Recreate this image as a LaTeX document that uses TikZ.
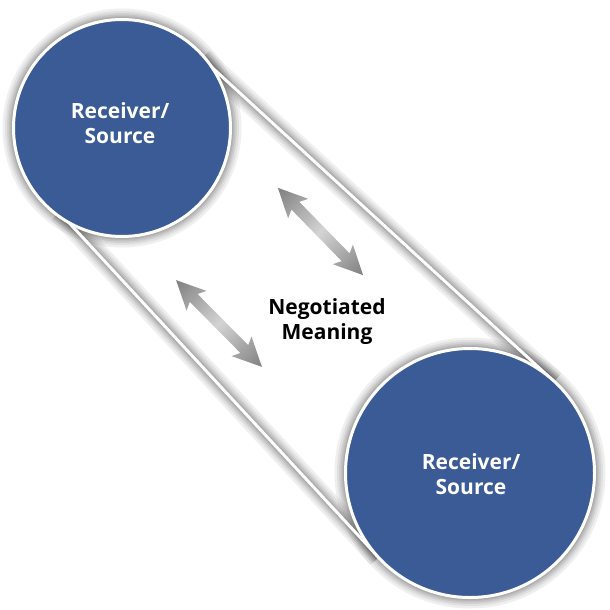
\documentclass[tikz,border=0pt]{standalone}
\usepackage{fontspec}
\setsansfont{Open Sans}
\usetikzlibrary{calc}
\definecolor{circblue}{RGB}{59,91,150}
\tikzset{
  glow/.style={draw=black, line width=#1, opacity=0.062},
  ring/.style={draw=white, line width=3pt},
  bandline/.style={draw=white, line width=3pt, line cap=butt},
  bluecirc/.style={circle, fill=circblue, draw=white, line width=3pt, inner sep=0pt, outer sep=0pt},
  circtext/.style={text=white, font=\sffamily\bfseries\fontsize{21}{25.5}\selectfont, align=center},
  midtext/.style={text=black, font=\sffamily\bfseries\fontsize{21}{25}\selectfont, align=center},
  arrowfill/.style={left color=black!50, right color=black!50, middle color=black!17, draw=none}
}
\begin{document}
\begin{tikzpicture}[x=1pt,y=-1pt]
\useasboundingbox (0,0) rectangle (610,610);
\fill[white] (0,0) rectangle (610,610);
% geometry
\coordinate (c1) at (122,128);
\coordinate (c2) at (470,473);
\coordinate (u0) at (202.3,58.5);
\coordinate (u1) at (554.0,381.5);
\coordinate (l0) at (59.4,212.3);
\coordinate (l1) at (378.6,557.4);
% soft shadows
\foreach \w in {22,17,13,10,7,5}{
  \draw[glow=\w pt] (c1) circle (108.5);
  \draw[glow=\w pt] (c2) circle (124.5);
  \draw[glow=\w pt] (u0) -- (u1);
  \draw[glow=\w pt] (l0) -- (l1);
}
% band lines
\draw[bandline] (u0) -- (u1);
\draw[bandline] (l0) -- (l1);
% circles
\node[bluecirc, minimum size=217pt] (n1) at (c1) {};
\node[bluecirc, minimum size=249pt] (n2) at (c2) {};
\node[circtext] (t1) at (120,123) {Receiver/\\Source};
\node[circtext] (t2) at (471,474) {Receiver/\\Source};
% arrows
\begin{scope}[transform canvas={shift={(320.5,231.5)}, rotate=-45.7}]
  \path[arrowfill] (61,0) -- (32,14) -- (36,5.5) -- (-36,5.5) -- (-32,14) -- (-61,0)
     -- (-32,-14) -- (-36,-5.5) -- (36,-5.5) -- (32,-14) -- cycle;
\end{scope}
\begin{scope}[transform canvas={shift={(219,323.5)}, rotate=-45.3}]
  \path[arrowfill] (61,0) -- (32,14) -- (36,5.5) -- (-36,5.5) -- (-32,14) -- (-61,0)
     -- (-32,-14) -- (-36,-5.5) -- (36,-5.5) -- (32,-14) -- cycle;
\end{scope}
\node[midtext] (m) at (327,322) {Negotiated\\Meaning};
\end{tikzpicture}
\end{document}
